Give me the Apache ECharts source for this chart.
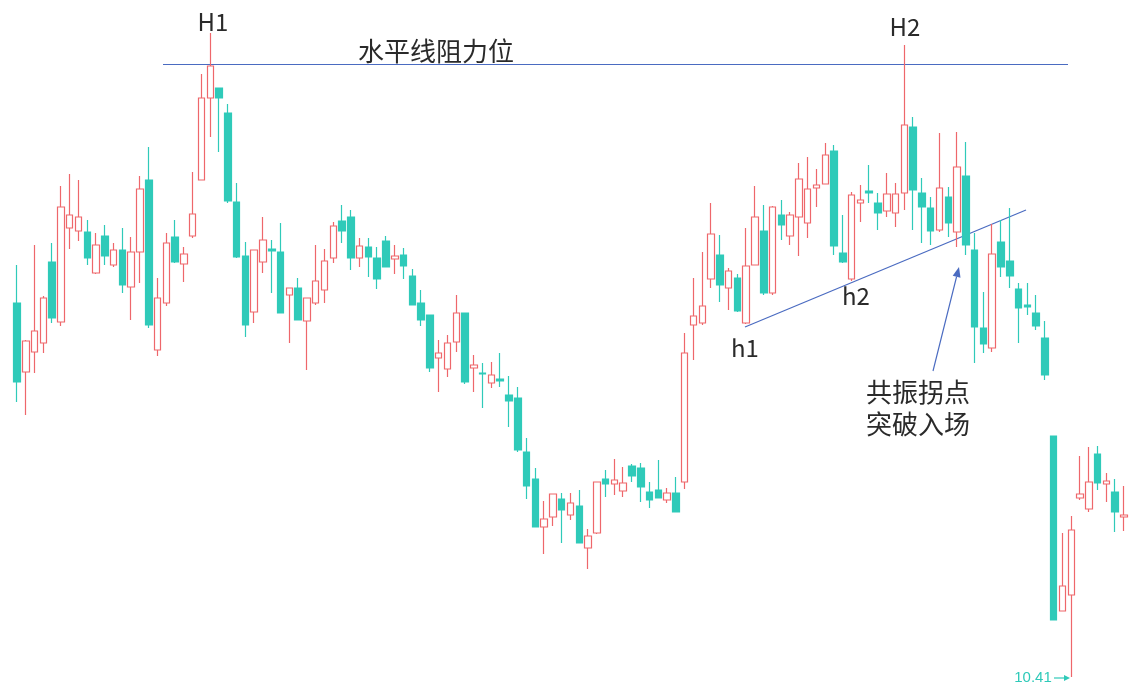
<!DOCTYPE html>
<html>
<head>
<meta charset="utf-8">
<script src="https://cdn.jsdelivr.net/npm/echarts@6/dist/echarts.min.js"></script>
<style>
html,body{margin:0;padding:0;background:#fff;}
#chart{width:1132px;height:688px;}
</style>
</head>
<body>
<div id="chart"></div>
<script>
// OHLC values (price units)
const opens = [14.15,13.46,13.66,13.75,14.56,13.96,14.90,14.87,14.86,14.45,14.82,14.53,14.68,14.31,14.66,15.38,13.68,14.15,14.81,14.54,
14.82,15.38,16.20,16.30,16.05,15.16,14.62,14.06,14.56,14.69,14.66,14.23,14.30,13.97,14.15,14.28,14.60,14.97,15.01,14.60,
14.71,14.60,14.77,14.59,14.63,14.42,14.15,14.03,13.60,13.49,13.76,14.05,13.50,13.45,13.35,13.39,13.23,13.20,12.66,12.39,
11.91,12.01,12.19,12.03,12.12,11.70,11.85,12.39,12.34,12.27,12.52,12.50,12.26,12.28,12.18,12.25,12.36,13.93,13.95,14.39,
14.63,14.30,14.40,13.95,14.53,14.87,14.25,15.03,14.82,15.01,14.95,15.30,15.34,15.67,14.65,14.39,15.15,15.27,15.15,15.07,
15.05,15.25,15.91,15.25,15.10,14.88,15.21,14.86,15.42,14.68,13.90,13.70,14.76,14.57,14.29,14.13,14.05,13.80,12.82,11.07,
11.23,12.20,12.09,12.64,12.34,12.26,12.01];
const closes = [13.36,13.77,13.87,14.20,14.00,15.11,15.03,15.01,14.60,14.73,14.62,14.68,14.33,14.66,15.29,13.93,14.20,14.75,14.56,14.64,
15.04,16.20,16.52,16.20,15.17,14.61,13.93,14.68,14.78,14.67,14.05,14.30,13.98,14.20,14.37,14.57,14.92,14.87,14.60,14.72,
14.61,14.39,14.51,14.62,14.52,14.13,13.98,13.50,13.65,13.75,14.05,13.36,13.53,13.44,13.43,13.37,13.17,12.68,12.32,11.91,
11.99,12.24,12.08,12.15,11.75,11.82,12.36,12.34,12.38,12.35,12.42,12.31,12.18,12.20,12.25,12.06,13.65,14.02,14.12,14.84,
14.33,14.47,14.07,14.52,15.01,14.25,15.11,14.93,15.03,15.39,15.29,15.33,15.63,14.72,14.56,15.23,15.18,15.25,15.05,15.24,
15.24,15.93,15.28,15.11,14.87,15.30,14.95,15.51,14.73,13.91,13.74,14.64,14.51,14.42,14.10,14.11,13.92,13.43,10.98,11.32,
11.88,12.24,12.36,12.35,12.37,12.06,12.03];
const lows = [13.16,13.03,13.45,13.65,13.95,13.92,14.69,14.77,14.53,14.44,14.53,14.51,14.25,13.98,14.35,13.90,13.62,14.12,14.55,14.36,
14.80,15.38,15.81,15.66,15.15,14.60,13.81,13.95,14.45,14.25,14.05,13.75,13.98,13.48,14.13,14.15,14.55,14.75,14.48,14.51,
14.41,14.29,14.51,14.44,14.39,14.13,13.92,13.46,13.26,13.41,13.66,13.34,13.26,13.10,13.30,13.31,12.91,12.66,12.19,11.91,
11.64,11.92,11.75,11.98,11.75,11.49,11.84,12.21,12.23,12.21,12.36,12.16,12.10,12.20,12.15,12.06,12.29,13.58,13.93,14.30,
14.16,14.08,14.06,13.94,14.53,14.23,14.23,14.78,14.73,14.62,14.80,15.11,15.34,14.63,14.55,14.37,14.96,15.15,14.88,15.01,
14.91,15.08,14.88,14.75,14.73,14.86,14.81,14.71,14.63,13.55,13.65,13.66,14.41,14.30,13.75,14.03,13.88,13.38,10.98,11.07,
10.41,12.18,12.06,12.28,12.16,11.86,11.87];
const highs = [14.53,13.78,14.73,14.22,14.75,15.32,15.44,15.38,14.98,14.85,14.93,14.75,14.90,14.81,15.42,15.71,14.40,14.85,14.98,14.71,
15.46,16.44,16.85,16.30,16.14,15.35,14.76,14.68,15.01,14.78,14.95,14.30,14.40,14.20,14.73,14.69,14.96,15.13,15.08,14.80,
14.80,14.71,14.82,14.73,14.70,14.49,14.28,14.03,13.78,13.83,14.23,14.05,13.63,13.55,13.56,13.65,13.42,13.31,12.80,12.50,
12.17,12.24,12.25,12.25,12.28,11.89,12.36,12.48,12.59,12.51,12.54,12.55,12.36,12.58,12.30,12.41,13.85,14.40,14.66,15.15,
14.83,14.50,14.44,14.90,15.32,15.13,15.12,15.18,15.06,15.55,15.61,15.49,15.75,15.73,15.03,15.26,15.33,15.53,15.25,15.45,
15.35,16.73,16.01,15.40,15.21,15.85,15.31,15.86,15.76,14.85,14.26,14.94,14.98,15.10,14.35,14.35,14.23,13.97,12.82,11.85,
12.02,12.62,12.71,12.72,12.45,12.39,12.32];
const categories = opens.map((_, i) => 'K' + (i + 1));
const lowLabel = '10.41';

const RED = '#ee676b';
const TEAL = '#2fcab9';
const BLUE = '#4a6bc1';
const INK = '#2a2a2a';

const chart = echarts.init(document.getElementById('chart'), null, {renderer: 'canvas'});
const kdata = opens.map((o, i) => [o, closes[i], lows[i], highs[i]]);

const cjk = '"Noto Sans CJK SC", "Noto Sans", sans-serif';
function txt(x, y, s, size, color) {
  return {type: 'text', x: x, y: y, silent: true,
    style: {text: s, fill: color || INK, font: size + 'px ' + cjk, align: 'center', verticalAlign: 'middle'}};
}
function seg(x1, y1, x2, y2, w) {
  return {type: 'line', silent: true, shape: {x1: x1, y1: y1, x2: x2, y2: y2},
    style: {stroke: BLUE, lineWidth: w || 1.2}};
}

chart.setOption({
  animation: false,
  backgroundColor: '#ffffff',
  grid: {left: 12.6, right: 3.6, top: 0, bottom: 0},
  xAxis: {type: 'category', data: categories, show: false, boundaryGap: true},
  yAxis: {type: 'value', min: 10.30, max: 17.18, show: false, splitLine: {show: false}},
  series: [{
    type: 'candlestick',
    data: kdata,
    barWidth: 7,
    itemStyle: {color: '#ffffff', color0: TEAL, borderColor: RED, borderColor0: TEAL, borderWidth: 1.2}
  }],
  graphic: [
    seg(163, 64.5, 1068, 64.5),
    seg(745, 327, 1026, 210),
    seg(933, 371, 956.6, 276.7),
    {type: 'polygon', silent: true, shape: {points: [[959, 267], [960.5, 277.7], [952.7, 275.7]]}, style: {fill: BLUE}},
    txt(213, 22, 'H1', 24),
    txt(436, 51, '水平线阻力位', 26),
    txt(905, 27, 'H2', 24),
    txt(745, 348, 'h1', 24),
    txt(856, 296, 'h2', 24),
    txt(918, 392, '共振拐点', 26),
    txt(918, 424, '突破入场', 26),
    {type: 'text', x: 1033, y: 678, silent: true,
      style: {text: lowLabel, fill: TEAL, font: '15px "Liberation Sans", Arial, sans-serif', align: 'center', verticalAlign: 'middle'}},
    {type: 'line', silent: true, shape: {x1: 1054, y1: 678, x2: 1066, y2: 678}, style: {stroke: TEAL, lineWidth: 1.2}},
    {type: 'polygon', silent: true, shape: {points: [[1070, 678], [1064, 675], [1064, 681]]}, style: {fill: TEAL}}
  ]
});
</script>
</body>
</html>
